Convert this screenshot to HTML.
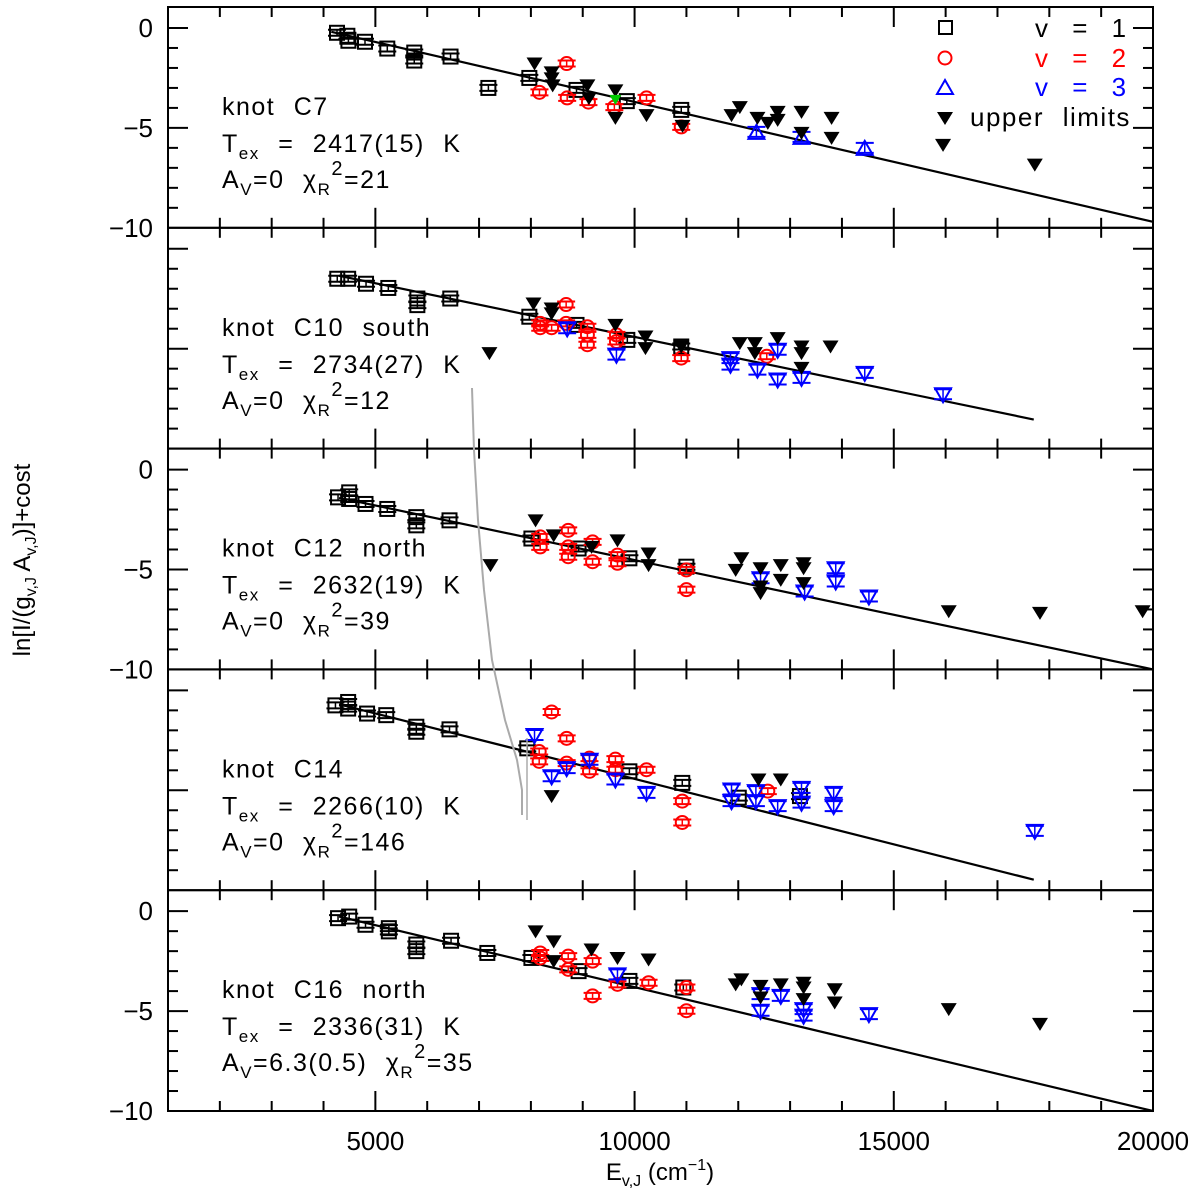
<!DOCTYPE html>
<html><head><meta charset="utf-8">
<style>
html,body{margin:0;padding:0;background:#fff;}
svg{display:block;font-family:"Liberation Sans",Helvetica,sans-serif;}
.lab{letter-spacing:1.5px;word-spacing:10px;}
</style></head>
<body>
<svg id="chart" width="1200" height="1200" viewBox="0 0 1200 1200" xmlns="http://www.w3.org/2000/svg">
<g id="plots"></g>
<g font-size="26" class="lab">
  <rect x="939" y="21" width="13" height="13" fill="none" stroke="#000" stroke-width="2"/>
  <text x="1035" y="37" fill="#000" style="word-spacing:14px">v = 1</text>
  <circle cx="945" cy="58" r="6.5" fill="none" stroke="#f00" stroke-width="2"/>
  <text x="1035" y="67" fill="#f00" style="word-spacing:14px">v = 2</text>
  <path d="M945,80 L953,94 L937,94 Z" fill="none" stroke="#00f" stroke-width="2"/>
  <text x="1035" y="96" fill="#00f" style="word-spacing:14px">v = 3</text>
  <path d="M937,112 L953,112 L945,125 Z" fill="#000"/>
  <text x="970" y="126" fill="#000">upper limits</text>
</g>
<text transform="translate(30,560) rotate(-90)" text-anchor="middle" font-size="24">ln[I/(g<tspan font-size="16" dy="6">v,J</tspan><tspan dy="-6"> A</tspan><tspan font-size="16" dy="6">v,J</tspan><tspan dy="-6">)]+cost</tspan></text>
<text x="660" y="1180" text-anchor="middle" font-size="24">E<tspan font-size="16" dy="6">v,J</tspan><tspan dy="-6"> (cm</tspan><tspan font-size="16" dy="-10">−1</tspan><tspan dy="10">)</tspan></text>
</svg>
<script>
// ---- data ----
const xTicks = [5000, 10000, 15000, 20000];
const xTickLabels = ["5000", "10000", "15000", "20000"];
const yTicks = [0, -5, -10];
const yTickLabels = ["0", "−5", "−10"];
const panelNames = ["knot C7", "knot C10 south", "knot C12 north", "knot C14", "knot C16 north"];
const panelTex = ["2417(15)", "2734(27)", "2632(19)", "2266(10)", "2336(31)"];
const panelAv = ["0", "0", "0", "0", "6.3(0.5)"];
const panelChi = ["21", "12", "39", "146", "35"];
const panelYLabels = [true, false, true, false, true];
const fitSlope = [-6.0e-4, -5.37e-4, -5.47e-4, -6.55e-4, -6.2e-4];
const fitIntercept = [2.3, 0.96, 0.94, 2.12, 2.40];
const fitStart = [4150, 4300, 4300, 4300, 4300];
const fitEnd = [20000, 17700, 20000, 17700, 20000];

const c7_v1 = [[4260,-0.24],[4460,-0.39],[4480,-0.64],[4800,-0.69],[5230,-1.03],[5750,-1.23],[5750,-1.63],[6450,-1.43],[7180,-3.0],[7970,-2.5],[8880,-3.1],[9850,-3.66],[10900,-4.1]];
const c7_v2 = [[8165,-3.22],[8690,-1.78],[8700,-3.5],[9110,-3.71],[9610,-3.96],[10230,-3.5],[10900,-4.95]];
const c7_v3 = [[12350,-5.2],[13220,-5.45],[14440,-6.0]];
const c7_ul = [[8070,-1.78],[8400,-2.22],[8400,-2.52],[8420,-2.87],[9090,-2.87],[9120,-3.51],[9630,-3.12],[9630,-4.5],[10230,-4.36],[10925,-4.9],[11870,-4.36],[12030,-3.96],[12370,-4.5],[12570,-4.75],[12760,-4.2],[12760,-4.6],[13220,-4.2],[13220,-5.25],[13800,-4.5],[13800,-5.5],[15950,-5.85],[17720,-6.84]];

const c10_v1 = [[4265,-1.5],[4475,-1.5],[4820,-1.75],[5250,-1.96],[5810,-2.49],[5810,-2.82],[6445,-2.49],[7970,-3.4],[8880,-3.81],[9860,-4.56],[10900,-4.89]];
const c10_v2 = [[8180,-3.73],[8180,-3.95],[8400,-3.95],[8680,-2.79],[8680,-3.73],[9090,-3.9],[9090,-4.31],[9090,-4.8],[9650,-4.31],[9650,-4.64],[10900,-5.47],[12550,-5.38]];
const c10_v3 = [[8700,-3.98],[9650,-5.3],[11850,-5.47],[11850,-5.8],[12370,-6.05],[12760,-5.05],[12760,-6.54],[13220,-6.46],[14440,-6.21],[15950,-7.28]];
const c10_ul = [[8050,-2.74],[8400,-2.99],[8400,-3.23],[9630,-3.81],[10210,-4.39],[10210,-4.97],[10900,-4.89],[7200,-5.22],[12030,-4.72],[12320,-4.72],[12320,-5.22],[12760,-4.47],[13220,-4.89],[13220,-5.22],[13220,-5.96],[13780,-4.89]];

const c12_v1 = [[4280,-1.39],[4495,-1.14],[4495,-1.47],[4810,-1.72],[5230,-1.97],[5790,-2.38],[5790,-2.79],[6430,-2.54],[8010,-3.45],[8920,-3.95],[9900,-4.44],[11000,-4.86]];
const c12_v2 = [[8180,-3.37],[8180,-3.87],[8720,-3.04],[8720,-3.87],[8720,-4.36],[9190,-3.62],[9190,-4.61],[9670,-4.28],[9670,-4.69],[11000,-5.02],[11000,-6.01]];
const c12_v3 = [[12430,-5.44],[13280,-6.1],[13880,-4.94],[13880,-5.6],[14520,-6.35]];
const c12_ul = [[7220,-4.78],[8090,-2.54],[8440,-3.29],[9170,-3.87],[9670,-3.54],[10270,-4.2],[10270,-4.78],[11950,-5.02],[12060,-4.44],[12430,-4.94],[12430,-5.85],[12430,-6.18],[12820,-4.78],[12820,-5.52],[13260,-4.69],[13260,-4.94],[13260,-5.68],[16060,-7.09],[17820,-7.17],[19800,-7.09]];

const c14_v1 = [[4230,-0.75],[4475,-0.58],[4475,-0.91],[4840,-1.16],[5210,-1.24],[5790,-1.82],[5790,-2.07],[6430,-1.95],[7930,-2.9],[9900,-4.05],[10920,-4.63],[12010,-5.37],[13190,-5.29]];
const c14_v2 = [[8400,-1.08],[8160,-3.06],[8160,-3.55],[8690,-2.4],[8690,-3.64],[9130,-3.39],[9130,-4.05],[9630,-3.44],[9630,-3.97],[10230,-3.97],[10920,-5.54],[10920,-6.61],[12570,-5.04]];
const c14_v3 = [[8070,-2.23],[8400,-4.3],[8690,-3.89],[9130,-3.47],[9630,-4.46],[10230,-5.13],[11870,-4.96],[11870,-5.54],[12340,-5.04],[12340,-5.54],[12760,-5.79],[13220,-4.88],[13220,-5.62],[13840,-5.13],[13840,-5.79],[17720,-7.03]];
const c14_ul = [[8400,-5.29],[12390,-4.46],[12820,-4.46]];

const c16_v1 = [[4280,-0.35],[4495,-0.27],[4810,-0.68],[5260,-0.85],[5260,-1.01],[5790,-1.67],[5790,-2.0],[6460,-1.48],[7160,-2.09],[8010,-2.34],[8920,-3.0],[9900,-3.49],[10940,-3.82]];
const c16_v2 = [[8180,-2.09],[8180,-2.34],[8720,-2.25],[8720,-2.91],[9190,-2.5],[9190,-4.24],[9670,-3.66],[10270,-3.58],[11000,-3.82],[11000,-4.98]];
const c16_v3 = [[9670,-3.16],[12430,-4.15],[12430,-4.98],[12820,-4.24],[13260,-4.9],[13260,-5.23],[14520,-5.15]];
const c16_ul = [[8090,-1.01],[8440,-1.51],[8440,-2.5],[9170,-1.92],[9670,-2.34],[10270,-2.42],[11950,-3.66],[12060,-3.41],[12430,-3.74],[12430,-4.32],[12820,-3.66],[13260,-3.58],[13260,-3.82],[13260,-4.4],[13860,-3.91],[13860,-4.57],[16060,-4.9],[17820,-5.64]];

const seriesV1 = [c7_v1, c10_v1, c12_v1, c14_v1, c16_v1];
const seriesV2 = [c7_v2, c10_v2, c12_v2, c14_v2, c16_v2];
const seriesV3 = [c7_v3, c10_v3, c12_v3, c14_v3, c16_v3];
const seriesUL = [c7_ul, c10_ul, c12_ul, c14_ul, c16_ul];

// ---- layout ----
const NS = "http://www.w3.org/2000/svg";
const L = 168, R = 1153, T0 = 7, PH = 220.8;
const xMin = 1000, xMax = 20000, yMax = 1.05, yMin = -10;
function xs(e){ return L + (e - xMin) / (xMax - xMin) * (R - L); }
function ys(p, v){ const top = T0 + p*PH; return top + (yMax - v) / (yMax - yMin) * PH; }
function mk(tag, attrs, parent){ const el = document.createElementNS(NS, tag); for (const k in attrs) el.setAttribute(k, attrs[k]); parent.appendChild(el); return el; }
const root = document.getElementById('plots');

for (let p = 0; p < 5; p++) {
  const g = mk('g', {}, root);
  
  
  const top = T0 + p*PH, bot = top + PH;
  const frame = mk('rect', {x:L, y:top, width:R-L, height:PH, fill:'none', stroke:'#000', 'stroke-width':2}, g);
  
  
  for (let e = 2000; e < 20000; e += 1000) {
    const len = (e % 5000 === 0) ? 20 : 10;
    const x = xs(e);
    const t1 = mk('line', {x1:x, x2:x, y1:bot, y2:bot-len, stroke:'#000', 'stroke-width':2}, g);
    
    
    const t2 = mk('line', {x1:x, x2:x, y1:top, y2:top+len, stroke:'#000', 'stroke-width':2}, g);
    
    
  }
  for (let v = 0; v >= -9; v--) {
    const len = (v % 5 === 0) ? 20 : 10;
    const y = ys(p, v);
    const a = mk('line', {x1:L, x2:L+len, y1:y, y2:y, stroke:'#000', 'stroke-width':2}, g);
    
    
    const b = mk('line', {x1:R, x2:R-len, y1:y, y2:y, stroke:'#000', 'stroke-width':2}, g);
    
    
  }
  if (panelYLabels[p]) {
    yTicks.forEach((v, i) => {
      const t = mk('text', {x:153, y:ys(p, v)+9, 'text-anchor':'end', 'font-size':26}, g);
      t.textContent = yTickLabels[i];
      
      
    });
  }
  const fl = mk('line', {x1:xs(fitStart[p]), y1:ys(p, fitIntercept[p] + fitSlope[p]*fitStart[p]), x2:xs(fitEnd[p]), y2:ys(p, fitIntercept[p] + fitSlope[p]*fitEnd[p]), stroke:'#000', 'stroke-width':2.2}, g);
  
  

  function errbar(x, y, col, h){
    mk('line', {x1:x-9, x2:x+9, y1:y-h, y2:y-h, stroke:col, 'stroke-width':2}, g);
    mk('line', {x1:x-9, x2:x+9, y1:y+h, y2:y+h, stroke:col, 'stroke-width':2}, g);
    mk('line', {x1:x, x2:x, y1:y-h, y2:y+h, stroke:col, 'stroke-width':1.5}, g);
  }
  seriesV1[p].forEach(d => {
    const x = xs(d[0]), y = ys(p, d[1]);
    errbar(x, y, '#000', 3);
    const m = mk('rect', {x:x-7, y:y-7, width:14, height:14, fill:'none', stroke:'#000', 'stroke-width':2}, g);
    
    
  });
  seriesV2[p].forEach(d => {
    const x = xs(d[0]), y = ys(p, d[1]);
    errbar(x, y, '#f00', 3);
    const m = mk('circle', {cx:x, cy:y, r:6.5, fill:'none', stroke:'#f00', 'stroke-width':2}, g);
    
    
  });
  seriesV3[p].forEach(d => {
    const x = xs(d[0]), y = ys(p, d[1]);
    errbar(x, y, '#00f', 5);
    const dpath = p === 0 ? `M${x-8},${y+7} L${x+8},${y+7} L${x},${y-7} Z` : `M${x-8},${y-6} L${x+8},${y-6} L${x},${y+8} Z`;
    const m = mk('path', {d:dpath, fill:'none', stroke:'#00f', 'stroke-width':2}, g);
    
    
  });
  seriesUL[p].forEach(d => {
    const x = xs(d[0]), y = ys(p, d[1]);
    const m = mk('path', {d:`M${x-8},${y-6} L${x+8},${y-6} L${x},${y+7} Z`, fill:'#000'}, g);
    
    
  });
  const l1 = mk('text', {x:222, y:top+108, 'font-size':25, class:'lab'}, g);
  l1.textContent = panelNames[p];
  
  
  const l2 = mk('text', {x:222, y:top+145, 'font-size':25, class:'lab'}, g);
  l2.innerHTML = 'T<tspan font-size="17" dy="7">ex</tspan><tspan dy="-7"> = ' + panelTex[p] + ' K</tspan>';
  
  
  const l3 = mk('text', {x:222, y:top+181, 'font-size':25, class:'lab'}, g);
  l3.innerHTML = 'A<tspan font-size="17" dy="7">V</tspan><tspan dy="-7">=' + panelAv[p] + ' χ</tspan><tspan font-size="17" dy="7">R</tspan><tspan font-size="20" dy="-20">2</tspan><tspan dy="13">=' + panelChi[p] + '</tspan>';
  
  
}
const gp = mk('path', {d:`M${xs(9630)-6},${ys(0,-3.6)-5} L${xs(9630)+6},${ys(0,-3.6)-5} L${xs(9630)},${ys(0,-3.6)+5} Z`, fill:'#0c0'}, root);


const gc = mk('polyline', {points:'472,388 474,450 478,520 484,590 492,660 505,720 517,760 522,790 522,815', fill:'none', stroke:'#aaa', 'stroke-width':2}, root);


const gl = mk('line', {x1:527, x2:527, y1:738, y2:820, stroke:'#aaa', 'stroke-width':1.5}, root);


const svg = document.getElementById('chart');
xTicks.forEach((e, i) => {
  const t = mk('text', {x:xs(e), y:1150, 'text-anchor':'middle', 'font-size':26}, svg);
  t.textContent = xTickLabels[i];
  
  
});
</script>
</body></html>
